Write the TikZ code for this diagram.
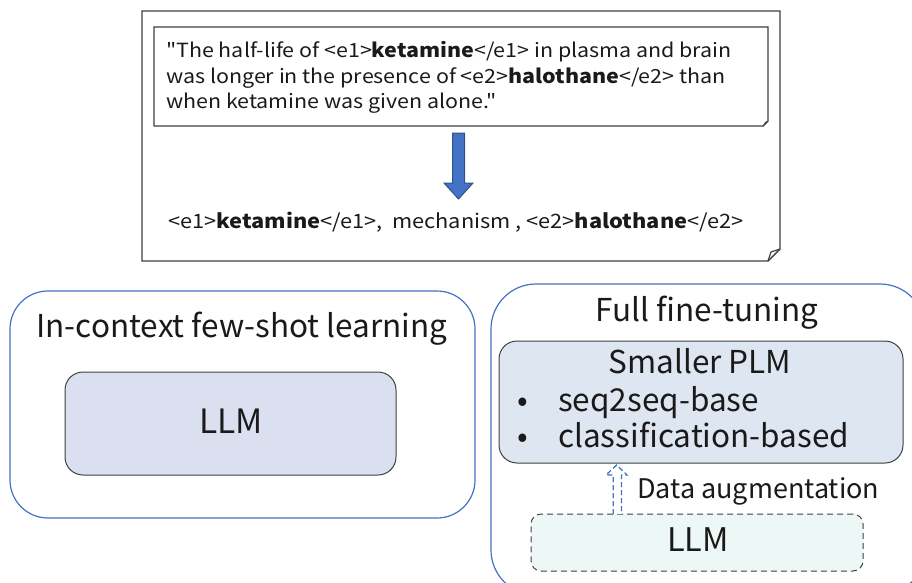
\documentclass[tikz,border=0pt]{standalone}
\usepackage{fontspec}
% plain families: no TeX ligature mapping, so " stays a straight quote
\newfontfamily\uifont{Noto Sans CJK JP}
\newfontfamily\samplefont{Noto Sans CJK JP}[FakeStretch=1.1]
\definecolor{panelblue}{RGB}{68,114,196}
\definecolor{arrowblue}{RGB}{68,114,196}
\definecolor{arrowedge}{RGB}{47,82,143}
\definecolor{edgegray}{RGB}{64,64,64}
\definecolor{llmfill}{RGB}{218,224,240}
\definecolor{plmfill}{RGB}{222,231,241}
\definecolor{augfill}{RGB}{237,247,245}
\definecolor{inkgray}{RGB}{26,26,26}
\begin{document}
\begin{tikzpicture}[x=1pt,y=-1pt,
  every node/.style={text=inkgray},
  sample/.style={anchor=base west, inner sep=0pt, font=\samplefont\fontsize{19.5}{25}\selectfont},
  panel/.style={draw=panelblue, line width=1.2pt, rounded corners=38pt},
  modelbox/.style={draw=edgegray, line width=1pt, rounded corners=18pt, inner sep=0pt},
  bigtext/.style={inner sep=0pt, anchor=base, font=\uifont\fontsize{31.5}{36}\selectfont},
]
\useasboundingbox (0,0) rectangle (912,583);

% example card with folded corner
\draw[edgegray, line width=1.4pt, fill=white]
  (142,11) -- (780,11) -- (780,249) -- (768,261) -- (142,261) -- cycle;
\draw[edgegray, line width=1.2pt] (768,261) -- (771,252) -- (780,249);
% input sentence box
\draw[edgegray, line width=1.4pt, fill=white]
  (154,27) -- (768,27) -- (768,121) -- (763,126) -- (154,126) -- cycle;
\fill[edgegray] (763,126) -- (765,122) -- (768,121) -- cycle;

\node[sample] (l1) at (166,58) {"The half-life of <e1>\textbf{ketamine}</e1> in plasma and brain};
\node[sample] (l2) at (166,84) {was longer in the presence of <e2>\textbf{halothane}</e2> than};
\node[sample] (l3) at (166,109) {when ketamine was given alone."};

% block arrow
\draw[arrowedge, line width=1pt, fill=arrowblue]
  (452.5,133) -- (464.5,133) -- (464.5,183) -- (473,183) -- (458.5,199)
  -- (444,183) -- (452.5,183) -- cycle;

\node[sample, font=\samplefont\fontsize{19.8}{25}\selectfont] (out) at (168,228)
  {<e1>\textbf{ketamine}</e1>,\ \ mechanism , <e2>\textbf{halothane}</e2>};

% in-context learning panel
\draw[panel] (10,291) rectangle (475,518);
\node[bigtext] (icltitle) at (242,337) {In-context few-shot learning};
\node[modelbox, fill=llmfill, minimum width=331pt, minimum height=103pt] (llmA) at (230.5,423.5) {};
\node[bigtext, font=\uifont\fontsize{33.5}{38}\selectfont] (llmAname) at (231,433) {LLM};

% fine-tuning panel
\draw[panel, rounded corners=45pt] (491,284) rectangle (925,595);
\node[bigtext] (fttitle) at (707,321.5) {Full fine-tuning};
\node[modelbox, fill=plmfill, minimum width=404pt, minimum height=122pt] (plm) at (701,402) {};
\node[bigtext] (plmname) at (700,373) {Smaller PLM};
\node[bigtext] (b1) at (523,411) {•};
\node[bigtext, anchor=base west] (t1) at (558,411) {seq2seq-base};
\node[bigtext] (b2) at (523,447.5) {•};
\node[bigtext, anchor=base west] (t2) at (558,447.5) {classification-based};

\node[modelbox, dashed, dash pattern=on 6pt off 4pt, fill=augfill, rounded corners=10pt,
      minimum width=332pt, minimum height=57pt] (llmB) at (697,542.5) {};
\node[bigtext, font=\uifont\fontsize{32.5}{36}\selectfont] (llmBname) at (698,551.5) {LLM};

% hollow dashed arrow for data augmentation
\draw[panelblue, line width=1.3pt, fill=white, dash pattern=on 5pt off 3pt]
  (613.3,514) -- (613.3,475) -- (606,475) -- (616.7,465) -- (627,475)
  -- (621.5,475) -- (621.5,514);
\node[inner sep=0pt, anchor=base west, font=\uifont\fontsize{27}{30}\selectfont] (aug) at (637,498.3) {Data augmentation};
\end{tikzpicture}
\end{document}
